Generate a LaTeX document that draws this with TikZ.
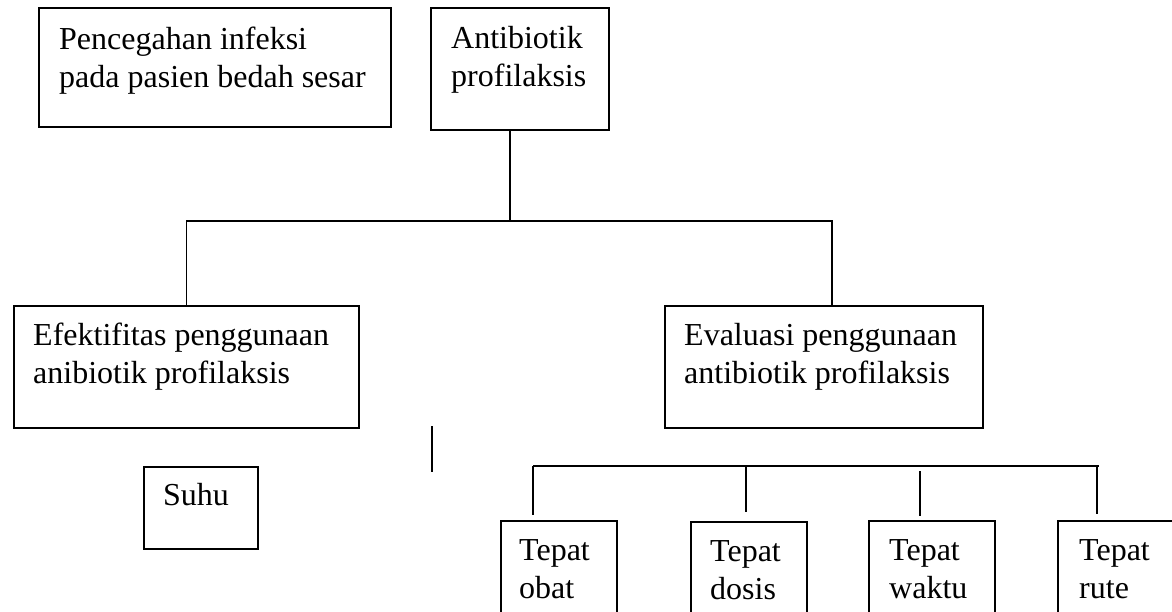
\documentclass[tikz,border=0pt]{standalone}
\usepackage{fontspec}
\setmainfont{Liberation Serif}
\usetikzlibrary{calc}

\begin{document}
\begin{tikzpicture}[
    x=1pt, y=-1pt,
    box/.style={rectangle, draw, line width=1.8pt, anchor=north west, inner sep=0pt},
    txt/.style={anchor=base west, align=left, inner sep=0pt, font=\fontsize{32}{38}\selectfont},
    link/.style={line width=1.2pt}
]
\useasboundingbox (0,0) rectangle (1172,611);
\clip (0,0) rectangle (1172,611);

% === TOP ROW ===
% (base of a two-line text is its second line)
\node[box, minimum width=352pt, minimum height=119pt] (cegah) at (38,7) {};
\node[txt] (cegah text) at ($(cegah.north west)+(21,80)$) {Pencegahan infeksi\\pada pasien bedah sesar};

\node[box, minimum width=178pt, minimum height=122pt] (anti) at (430,7) {};
\node[txt] (anti text) at ($(anti.north west)+(21,79)$) {Antibiotik\\profilaksis};

% === MIDDLE ROW ===
\node[box, minimum width=345pt, minimum height=122pt] (efek) at (13,305) {};
\node[txt] (efek text) at ($(efek.north west)+(20,78)$) {Efektifitas penggunaan\\anibiotik profilaksis};

\node[box, minimum width=318pt, minimum height=122pt] (eval) at (664,305) {};
\node[txt] (eval text) at ($(eval.north west)+(20,78)$) {Evaluasi penggunaan\\antibiotik profilaksis};

% Tree from Antibiotik profilaksis
\coordinate (hub) at (510,221);
\coordinate (bar r) at (832,221);
\draw[link] (hub |- anti.south) -- (hub);
\draw[link] (efek.north) |- (bar r) -- (bar r |- eval.north);

% stray stub
\coordinate (stub a) at (432,426);
\coordinate (stub b) at (432,472);
\draw[link] (stub a) -- (stub b);

% === BOTTOM ROW ===
\node[box, minimum width=114pt, minimum height=82pt] (suhu) at (143,466) {};
\node[txt] (suhu text) at ($(suhu.north west)+(20,39)$) {Suhu};

\node[box, minimum width=116pt, minimum height=130pt] (obat) at (500,520) {};
\node[txt] (obat text) at ($(obat.north west)+(19,78)$) {Tepat\\obat};

\node[box, minimum width=116pt, minimum height=130pt] (dosis) at (690,521) {};
\node[txt] (dosis text) at ($(dosis.north west)+(20,78)$) {Tepat\\dosis};

\node[box, minimum width=126pt, minimum height=130pt] (waktu) at (868,520) {};
\node[txt] (waktu text) at ($(waktu.north west)+(21,78)$) {Tepat\\waktu};

\node[box, minimum width=140pt, minimum height=130pt] (rute) at (1057,520) {};
\node[txt] (rute text) at ($(rute.north west)+(22,78)$) {Tepat\\rute};

% Evaluation branches
\coordinate (row l) at (533,466);
\coordinate (row r) at (1099,466);
\draw[link] (row l) -- (row r);
\foreach \x/\ya/\yb in {533/466/515, 746/466/512, 920/471/516, 1097/466/514} {
    \draw[link] (\x,\ya) -- (\x,\yb);
}

\end{tikzpicture}
\end{document}
